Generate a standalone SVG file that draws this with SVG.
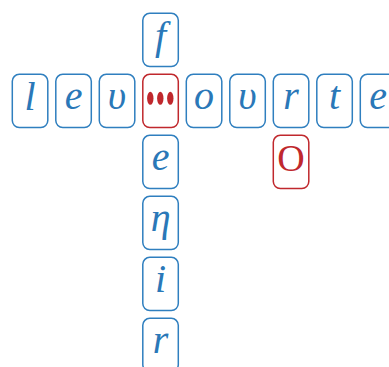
<svg xmlns="http://www.w3.org/2000/svg" width="389" height="367" viewBox="0 0 389 367">
<style>
.b rect{fill:#fff;stroke:#2f7fbf;stroke-width:1.5}
.r rect{fill:#fff;stroke:#c0282d;stroke-width:1.5}
.b text{fill:#2a78b8;font-family:"Liberation Serif",serif;font-style:italic;font-size:40px;text-anchor:middle}
.r text{fill:#c0282d;font-family:"Liberation Serif",serif;font-size:38px;text-anchor:middle}
.r ellipse{fill:#c0282d}
</style>
<g id="connectors"/>
<g id="n-f" class="b" transform="translate(142.8,13.3)"><rect width="35.5" height="53.3" rx="7"/><text x="17.75" y="36">f</text></g>
<g id="n-l" class="b" transform="translate(12.3,74.3)"><rect width="35.5" height="53.3" rx="7"/><text x="17.75" y="36">l</text></g>
<g id="n-e1" class="b" transform="translate(55.8,74.3)"><rect width="35.5" height="53.3" rx="7"/><text x="17.75" y="35">e</text></g>
<g id="n-u1" class="b" transform="translate(99.3,74.3)"><rect width="35.5" height="53.3" rx="7"/><text x="17.75" y="35">υ</text></g>
<g id="n-blank" class="r" transform="translate(142.8,74.3)"><rect width="35.5" height="53.3" rx="7"/><ellipse cx="7.5" cy="24" rx="3.2" ry="6.5"/><ellipse cx="17.5" cy="24" rx="3.2" ry="6.5"/><ellipse cx="27.5" cy="24" rx="3.2" ry="6.5"/></g>
<g id="n-o" class="b" transform="translate(186.3,74.3)"><rect width="35.5" height="53.3" rx="7"/><text x="17.75" y="35">o</text></g>
<g id="n-u2" class="b" transform="translate(229.8,74.3)"><rect width="35.5" height="53.3" rx="7"/><text x="17.75" y="35">υ</text></g>
<g id="n-r1" class="b" transform="translate(273.3,74.3)"><rect width="35.5" height="53.3" rx="7"/><text x="17.75" y="35">r</text></g>
<g id="n-t" class="b" transform="translate(316.8,74.3)"><rect width="35.5" height="53.3" rx="7"/><text x="17.75" y="35">t</text></g>
<g id="n-e2" class="b" transform="translate(360.3,74.3)"><rect width="35.5" height="53.3" rx="7"/><text x="17.75" y="35">e</text></g>
<g id="n-e3" class="b" transform="translate(142.8,135.3)"><rect width="35.5" height="53.3" rx="7"/><text x="17.75" y="35">e</text></g>
<g id="n-O" class="r" transform="translate(273.3,135.3)"><rect width="35.5" height="53.3" rx="7"/><text x="17.75" y="36">O</text></g>
<g id="n-eta" class="b" transform="translate(142.8,196.3)"><rect width="35.5" height="53.3" rx="7"/><text x="17.75" y="35">η</text></g>
<g id="n-i" class="b" transform="translate(142.8,257.3)"><rect width="35.5" height="53.3" rx="7"/><text x="17.75" y="35">i</text></g>
<g id="n-r2" class="b" transform="translate(142.8,318.3)"><rect width="35.5" height="53.3" rx="7"/><text x="17.75" y="35">r</text></g>
</svg>
